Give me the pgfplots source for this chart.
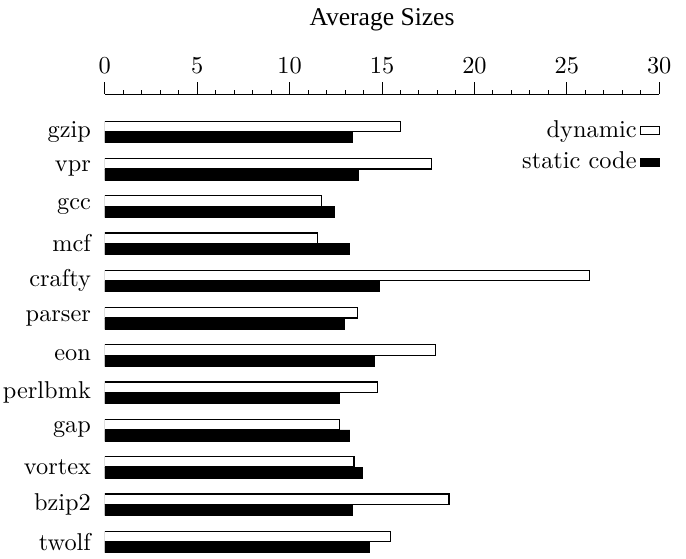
\documentclass[border=0pt]{standalone}
\usepackage{fontspec}
\usepackage{graphicx}
\usepackage{pgfplots}
\pgfplotsset{compat=1.18}
\newfontfamily\timesfont{Liberation Serif}
\begin{document}
\begin{tikzpicture}
\begin{axis}[
  width=227.8pt, height=188.5pt, scale only axis,
  xbar,
  xmin=0, xmax=30, ymin=-0.31, ymax=12,
  axis x line=top, axis y line=left,
  x axis line style={-, line width=0.5pt},
  y axis line style={draw=none},
  xtick={0,5,...,30},
  minor x tick num=4,
  tick align=outside,
  major tick length=4.9pt, minor tick length=1.8pt,
  every tick/.style={black, line width=0.4pt},
  ytick={0,...,11},
  yticklabels={twolf,bzip2,vortex,gap,perlbmk,eon,parser,crafty,mcf,gcc,vpr,gzip},
  ytick style={draw=none},
  yticklabel style={font=\fontsize{10}{12}\selectfont, anchor=east, inner xsep=1.2pt, xshift=0.6pt},
  xticklabel style={font=\timesfont\fontsize{10.2}{12}\selectfont, inner xsep=6pt},
  title={Average Sizes},
  title style={font=\timesfont\fontsize{10.5}{12}\selectfont, at={(axis description cs:0.5,1)}, anchor=base, yshift=22.5pt},
  legend plot pos=right,
  legend cell align=right,
  legend style={draw=none, fill=none, at={(rel axis cs:1,0.95)}, anchor=north east, xshift=0.6pt,
    font=\fontsize{10}{12}\selectfont, row sep=2.6pt, column sep=0.4pt, inner sep=0pt,
    nodes={inner sep=1pt}},
  legend image code/.code={\draw[#1] (0pt,-1.6pt) rectangle (7.8pt,1.6pt);},
]
\addplot[draw=black, fill=white, line width=0.5pt, bar width=4.3pt, bar shift=2.15pt] coordinates {
 (15.48,0) (18.62,1) (13.48,2) (12.71,3) (14.77,4) (17.9,5) (13.66,6) (26.24,7) (11.5,8) (11.74,9) (17.69,10) (16.0,11)};
\addlegendentry{dynamic}
\addplot[draw=black, fill=black, line width=0.3pt, bar width=4.5pt, bar shift=-2.3pt] coordinates {
 (14.34,0) (13.42,1) (13.96,2) (13.26,3) (12.67,4) (14.6,5) (12.96,6) (14.87,7) (13.26,8) (12.40,9) (13.74,10) (13.39,11)};
\addlegendentry{static code}
\end{axis}
\end{tikzpicture}
\end{document}
